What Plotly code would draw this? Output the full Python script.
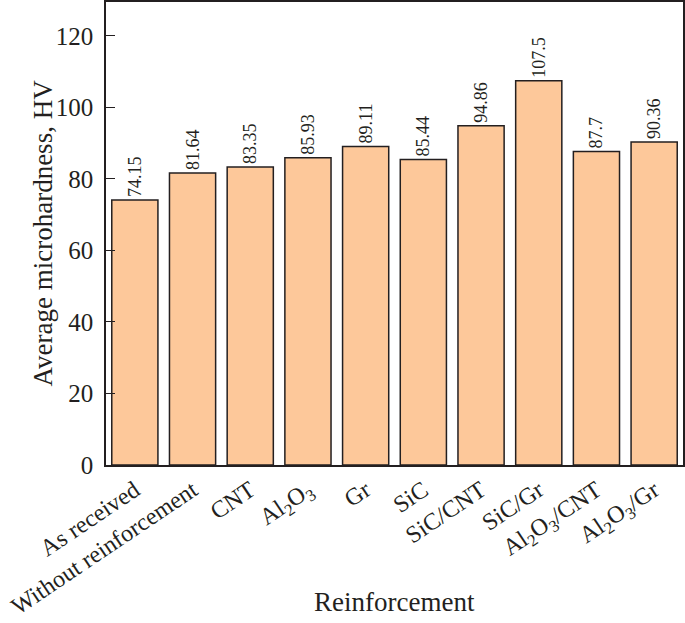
import plotly.graph_objects as go

categories = ["As received", "Without reinforcement", "CNT", "Al<sub>2</sub>O<sub>3</sub>", "Gr",
              "SiC", "SiC/CNT", "SiC/Gr", "Al<sub>2</sub>O<sub>3</sub>/CNT", "Al<sub>2</sub>O<sub>3</sub>/Gr"]
hardness = [74.15, 81.64, 83.35, 85.93, 89.11, 85.44, 94.86, 107.5, 87.7, 90.36]
labels = ["74.15", "81.64", "83.35", "85.93", "89.11", "85.44", "94.86", "107.5", "87.7", "90.36"]
y_ticks = [0, 20, 40, 60, 80, 100, 120]

FONT = "Liberation Serif, Times New Roman, serif"
INK = "#231f20"

fig = go.Figure(go.Bar(
    x=categories, y=hardness, text=labels,
    textposition="outside", textangle=-90, constraintext="none",
    textfont=dict(family=FONT, size=18, color=INK),
    marker=dict(color="#FDC89A", line=dict(color=INK, width=1.5)),
    cliponaxis=False,
))

fig.update_layout(
    width=685, height=623,
    margin=dict(l=106, r=2, t=2, b=158),
    paper_bgcolor="white", plot_bgcolor="white",
    font=dict(family=FONT, size=25, color=INK),
    bargap=0.2, showlegend=False,
    annotations=[
        dict(text="Average microhardness, HV", xref="paper", yref="paper", x=0, y=0.5,
             xanchor="center", yanchor="middle", xshift=-64, textangle=-90,
             showarrow=False, font=dict(size=27, family=FONT, color=INK)),
        dict(text="Reinforcement", xref="paper", yref="paper", x=0.5, y=0,
             xanchor="center", yanchor="middle", yshift=-137,
             showarrow=False, font=dict(size=27, family=FONT, color=INK)),
    ],
)
fig.update_xaxes(
    tickangle=-34, showline=True, linecolor=INK, linewidth=1.5, mirror=True,
    ticks="", showgrid=False,
    tickfont=dict(size=24),
    automargin=False, range=[-0.5, 9.5],
)
fig.update_yaxes(
    range=[0, 129.5], tickvals=y_ticks, ticks="inside", ticklen=9, tickcolor=INK, tickwidth=1.2,
    showline=True, linecolor=INK, linewidth=1.5, mirror=True, showgrid=False, zeroline=False,
    tickfont=dict(size=25), ticklabelstandoff=6,
    automargin=False,
)
fig.write_html("out.html", config={"displayModeBar": False},
               post_script="document.body.style.margin='0px';document.body.style.overflow='hidden';")
